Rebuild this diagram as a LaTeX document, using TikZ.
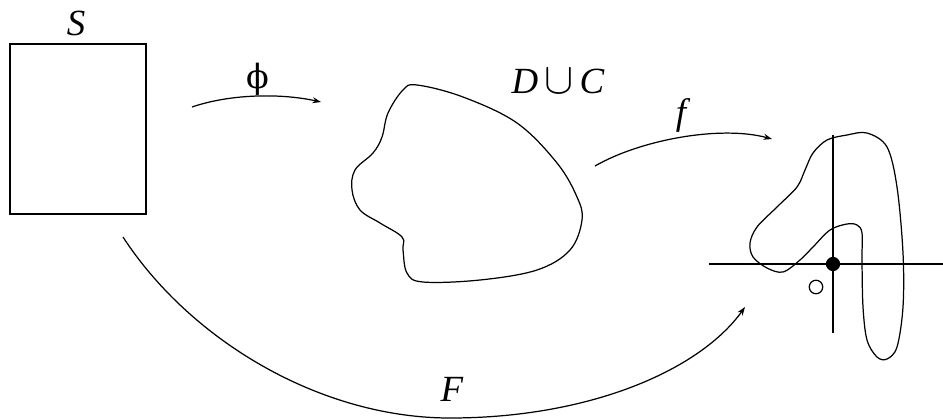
\documentclass[tikz,border=0pt]{standalone}
\usepackage{fontspec}
\setmainfont{Liberation Serif}[
    UprightFont={Liberation Serif},
    ItalicFont={Liberation Serif Italic}]
\newfontfamily\greekfont{DejaVu Serif}
\usetikzlibrary{arrows.meta}

\begin{document}
\begin{tikzpicture}[
    x=0.02cm, y=-0.02cm,
    line width=0.7pt,
    lbl/.style={font=\fontsize{21}{24}\selectfont\itshape, inner sep=0pt},
    arr/.style={-{Stealth[length=1.7mm, width=1.2mm]}},
    pt/.style={circle, draw, inner sep=0pt, minimum size=0.26cm}
]
\useasboundingbox (0,0) rectangle (943,419);

% the square S
\node[draw, inner sep=0pt, minimum width=2.72cm, minimum height=3.4cm] (sq) at (78,129) {};
\node[lbl] (S) at (76,23) {S};

% the region D u C
\draw plot[smooth cycle, tension=0.6] coordinates {
    (417,85) (463,97) (517,123) (557,163) (577,197) (582,220) (570,250)
    (537,270) (480,280) (423,282) (407,273) (403,250) (402,237) (380,223)
    (360,210) (352,190) (355,170) (373,153) (382,137) (388,113) (403,90)};
\node[lbl] (DC) at (558,81) {D\,{\upshape\fontsize{24}{24}\selectfont$\cup$}\,C};

% the image curve with axes
\draw plot[smooth cycle, tension=0.55] coordinates {
    (867,133) (887,147) (897,187) (903,253) (903,307) (897,347) (887,359)
    (877,357) (867,340) (863,307) (862,260) (862,233) (857,225) (847,224)
    (830,230) (813,247) (800,260) (783,272) (767,268) (753,257) (750,243)
    (757,227) (777,207) (797,187) (805,170) (813,153) (827,140) (847,135)};
\coordinate (hl) at (709,264);
\coordinate (hr) at (943,264);
\coordinate (vt) at (833,135);
\coordinate (vb) at (833,333);
\draw (hl) -- (hr);
\draw (vt) -- (vb);
\node[pt, fill=black] (p) at (833,264) {};
\node[pt, fill=white, minimum size=0.27cm] (q) at (816,287) {};

% maps
\coordinate (phis) at (192,107);
\coordinate (phie) at (321,102);
\draw[arr] (phis) .. controls (230,94) and (280,93) .. (phie);
\node[font=\fontsize{19}{22}\greekfont, inner sep=0pt] (phi) at (258,79) {ϕ};

\coordinate (fs) at (595,166);
\coordinate (fe) at (772,139);
\draw[arr] (fs) .. controls (640,140) and (720,125) .. (fe);
\node[lbl] (f) at (681,115) {f};

\coordinate (Fs) at (123,237);
\coordinate (Fm) at (450,418);
\coordinate (Fe) at (745,307);
\draw[arr] (Fs) .. controls (190,340) and (320,418) .. (Fm)
    .. controls (590,418) and (700,370) .. (Fe);
\node[lbl] (F) at (452,389) {F};

\end{tikzpicture}
\end{document}
